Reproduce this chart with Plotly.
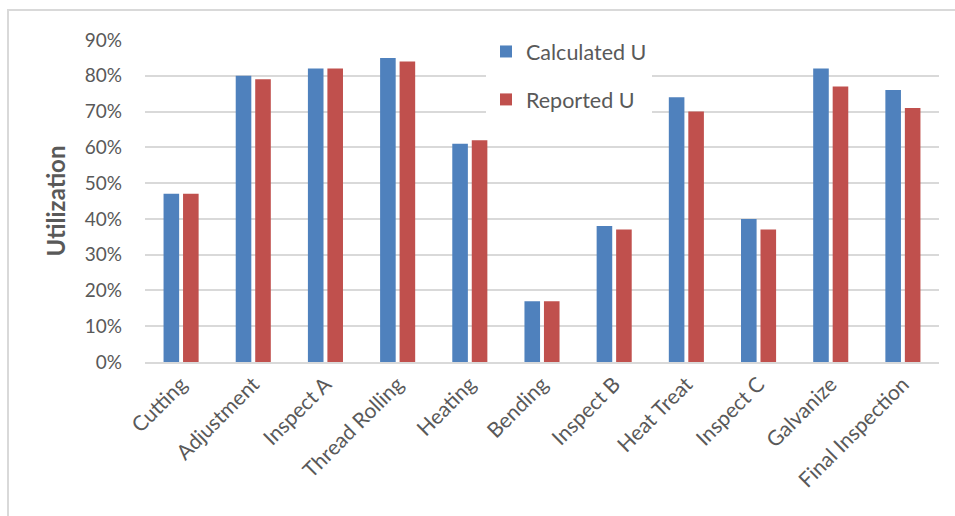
import plotly.graph_objects as go

# Workstation utilisation: calculated vs. reported
stations = ["Cutting", "Adjustment", "Inspect A", "Thread Rolling", "Heating",
            "Bending", "Inspect B", "Heat Treat", "Inspect C", "Galvanize",
            "Final Inspection"]
calculated_u = [0.47, 0.80, 0.82, 0.85, 0.61, 0.17, 0.38, 0.74, 0.40, 0.82, 0.76]
reported_u = [0.47, 0.79, 0.82, 0.84, 0.62, 0.17, 0.37, 0.70, 0.37, 0.77, 0.71]
y_ticks = [0, 0.1, 0.2, 0.3, 0.4, 0.5, 0.6, 0.7, 0.8, 0.9]

FONT = "Lato, 'Open Sans', sans-serif"
TEXT = "#595959"
GRID = "#D9D9D9"

fig = go.Figure()
fig.add_trace(go.Bar(name="Calculated U", x=stations, y=calculated_u,
                     marker=dict(color="#4F81BD", line=dict(width=0)),
                     legendgroup="a"))
fig.add_trace(go.Bar(name="Reported U", x=stations, y=reported_u,
                     marker=dict(color="#C0504D", line=dict(width=0)),
                     legendgroup="b"))

W, H = 955, 516
L, R, T, B = 145, 16, 40, 154
pw, ph = W - L - R, H - T - B

def px_x(p):
    return (p - L) / pw

def px_y(p):
    return (H - B - p) / ph

# outer chart frame
fig.add_shape(type="path", xref="paper", yref="paper",
              path=f"M {px_x(8)} {px_y(520)} L {px_x(8)} {px_y(10)} L {px_x(960)} {px_y(10)}",
              line=dict(color=GRID, width=2))

fig.update_layout(
    width=W, height=H,
    margin=dict(l=L, r=R, t=T, b=B, pad=0),
    paper_bgcolor="white", plot_bgcolor="white",
    font=dict(family=FONT, color=TEXT, size=18),
    barmode="group", bargap=0.46, bargroupgap=0.2,
    showlegend=True,
    legend=dict(x=px_x(486), y=px_y(31), xanchor="left", yanchor="top",
                bgcolor="white", borderwidth=0,
                font=dict(size=21.5, color=TEXT, family=FONT),
                traceorder="grouped", tracegroupgap=17,
                itemwidth=30),
    xaxis=dict(tickangle=-45, tickfont=dict(size=21, color=TEXT),
               showgrid=False, showline=True, linecolor=GRID, linewidth=1.5,
               ticks="", ticklen=0),
    yaxis=dict(range=[0, 0.9], tickvals=y_ticks, tickformat=".0%",
               tickfont=dict(size=19, color=TEXT),
               showgrid=True, gridcolor=GRID, gridwidth=1.5,
               zeroline=False, ticks="", ticklabelstandoff=22,
               title=dict(text="<b>Utilization</b>", font=dict(size=24, color=TEXT),
                          standoff=12)),
)

fig.write_html("out.html")
